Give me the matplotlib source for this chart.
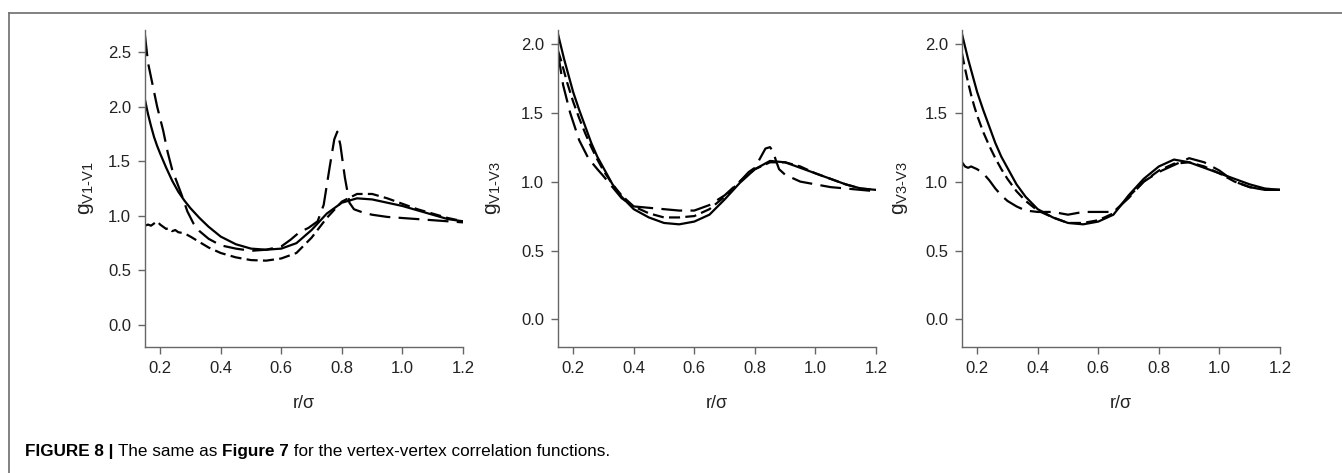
import matplotlib
matplotlib.use('Agg')
import matplotlib.pyplot as plt
from matplotlib.lines import Line2D

plt.rcParams['font.family'] = ['Liberation Sans', 'DejaVu Sans']
plt.rcParams['mathtext.fontset'] = 'custom'
plt.rcParams['mathtext.rm'] = 'Liberation Sans'
plt.rcParams['lines.scale_dashes'] = False

# общ x за гладките криви
r = [0.15, 0.16, 0.17, 0.18, 0.19, 0.20, 0.22, 0.24, 0.26, 0.28, 0.30, 0.33, 0.36, 0.40,
     0.45, 0.50, 0.55, 0.60, 0.65, 0.70, 0.75, 0.80, 0.85, 0.90, 0.95, 1.00, 1.05, 1.10,
     1.15, 1.20]

# панел 1: g V1-V1
v11_solid = [2.06, 1.93, 1.82, 1.72, 1.64, 1.57, 1.44, 1.32, 1.22, 1.14, 1.07, 0.98, 0.90,
             0.81, 0.74, 0.70, 0.69, 0.70, 0.75, 0.87, 1.02, 1.12, 1.16, 1.15, 1.12, 1.09,
             1.05, 1.01, 0.97, 0.95]
v11_long_r = [0.15, 0.16, 0.175, 0.19, 0.21, 0.225, 0.24, 0.27, 0.29, 0.31, 0.33, 0.36, 0.40,
              0.45, 0.50, 0.55, 0.60, 0.63, 0.66, 0.69, 0.72, 0.74, 0.76, 0.775, 0.785,
              0.795, 0.81, 0.825, 0.84, 0.87, 0.90, 0.95, 1.00, 1.05, 1.10, 1.15, 1.20]
v11_long = [2.65, 2.40, 2.20, 2.00, 1.78, 1.58, 1.42, 1.20, 1.04, 0.93, 0.86, 0.79, 0.73,
            0.70, 0.68, 0.69, 0.72, 0.78, 0.85, 0.89, 0.95, 1.10, 1.45, 1.70, 1.77,
            1.65, 1.35, 1.12, 1.06, 1.03, 1.01, 0.99, 0.98, 0.97, 0.96, 0.95, 0.94]
v11_short_r = [0.15, 0.16, 0.17, 0.18, 0.19, 0.20, 0.21, 0.22, 0.23, 0.24, 0.25, 0.26, 0.28,
               0.30, 0.33, 0.36, 0.40, 0.45, 0.50, 0.55, 0.60, 0.65, 0.70, 0.75, 0.80,
               0.85, 0.90, 0.95, 1.00, 1.05, 1.10, 1.15, 1.20]
v11_short = [0.91, 0.92, 0.91, 0.93, 0.95, 0.92, 0.90, 0.88, 0.89, 0.86, 0.87, 0.85, 0.84,
             0.81, 0.76, 0.71, 0.66, 0.62, 0.595, 0.59, 0.61, 0.66, 0.80, 0.98, 1.13,
             1.20, 1.20, 1.16, 1.11, 1.06, 1.02, 0.98, 0.95]

# панел 2: g V1-V3
v13_solid = [2.07, 1.98, 1.89, 1.81, 1.73, 1.65, 1.52, 1.40, 1.28, 1.18, 1.10, 0.98, 0.89,
             0.80, 0.74, 0.70, 0.69, 0.71, 0.76, 0.87, 0.99, 1.09, 1.15, 1.14, 1.10, 1.06,
             1.02, 0.98, 0.95, 0.94]
v13_short = [1.95, 1.88, 1.80, 1.72, 1.65, 1.58, 1.46, 1.35, 1.25, 1.16, 1.08, 0.98, 0.90,
             0.82, 0.77, 0.74, 0.74, 0.75, 0.80, 0.89, 1.00, 1.09, 1.14, 1.14, 1.11, 1.06,
             1.02, 0.98, 0.95, 0.94]
v13_long_r = [0.15, 0.167, 0.19, 0.22, 0.25, 0.28, 0.30, 0.33, 0.36, 0.40, 0.45, 0.50, 0.55,
              0.60, 0.65, 0.70, 0.75, 0.78, 0.80, 0.82, 0.835, 0.85, 0.86, 0.87, 0.88, 0.90,
              0.95, 1.00, 1.05, 1.10, 1.15, 1.20]
v13_long = [1.93, 1.70, 1.50, 1.30, 1.17, 1.09, 1.04, 0.96, 0.88, 0.82, 0.81, 0.80, 0.79,
            0.79, 0.83, 0.90, 1.00, 1.07, 1.10, 1.18, 1.24, 1.25, 1.22, 1.15, 1.09, 1.05,
            1.00, 0.98, 0.96, 0.95, 0.94, 0.93]

# панел 3: g V3-V3
v33_solid = [2.07, 1.98, 1.89, 1.81, 1.73, 1.65, 1.52, 1.40, 1.28, 1.18, 1.10, 0.98, 0.89,
             0.80, 0.74, 0.70, 0.69, 0.71, 0.76, 0.90, 1.02, 1.11, 1.16, 1.14, 1.10, 1.06,
             1.02, 0.98, 0.95, 0.94]
v33_short = [1.93, 1.82, 1.72, 1.63, 1.55, 1.48, 1.36, 1.26, 1.17, 1.09, 1.02, 0.93, 0.86,
             0.79, 0.74, 0.70, 0.70, 0.72, 0.77, 0.89, 1.00, 1.08, 1.13, 1.14, 1.11, 1.06,
             1.00, 0.96, 0.94, 0.94]
v33_long = [1.14, 1.11, 1.10, 1.11, 1.10, 1.09, 1.06, 1.01, 0.95, 0.90, 0.86, 0.82, 0.79,
            0.78, 0.78, 0.76, 0.78, 0.78, 0.78, 0.88, 1.00, 1.07, 1.12, 1.17, 1.14, 1.08,
            1.00, 0.96, 0.94, 0.94]

ylabels = [r'$\mathregular{g_{V1\text{-}V1}}$', r'$\mathregular{g_{V1\text{-}V3}}$',
           r'$\mathregular{g_{V3\text{-}V3}}$']
ylims = [(-0.2, 2.7), (-0.2, 2.1), (-0.2, 2.1)]
yticks = [[0.0, 0.5, 1.0, 1.5, 2.0, 2.5], [0.0, 0.5, 1.0, 1.5, 2.0], [0.0, 0.5, 1.0, 1.5, 2.0]]
xticks = [0.2, 0.4, 0.6, 0.8, 1.0, 1.2]

panels = [
    [(r, v11_solid, 'solid'), (v11_long_r, v11_long, 'long'), (v11_short_r, v11_short, 'short')],
    [(r, v13_solid, 'solid'), (v13_long_r, v13_long, 'long'), (r, v13_short, 'short')],
    [(r, v33_solid, 'solid'), (r, v33_long, 'long'), (r, v33_short, 'short')],
]
dashes = {'solid': None, 'long': (15, 6), 'short': (8, 3.8)}

W, H = 1342, 473
fig = plt.figure(figsize=(W / 100, H / 100), dpi=100)
lefts = [145, 558, 962]
label_x = [-0.155, -0.172, -0.165]
axes = []
for i, left in enumerate(lefts):
    ax = fig.add_axes([left / W, 1 - 347 / H, 318 / W, 317 / H])
    axes.append(ax)
    for xs, ys, style in panels[i]:
        line, = ax.plot(xs, ys, color='black', lw=1.6)
        if dashes[style]:
            line.set_dashes(dashes[style])
    ax.set_xlim(0.15, 1.2)
    ax.set_ylim(*ylims[i])
    ax.set_xticks(xticks)
    ax.set_xticklabels(['%.1f' % t for t in xticks])
    ax.set_yticks(yticks[i])
    ax.set_yticklabels(['%.1f' % t for t in yticks[i]])
    for s in ['top', 'right']:
        ax.spines[s].set_visible(False)
    for s in ['left', 'bottom']:
        ax.spines[s].set_color('#666666')
        ax.spines[s].set_linewidth(1.0)
    ax.tick_params(direction='out', length=5, width=1, color='#666666',
                   labelsize=12, labelcolor='#222222', pad=5)
    ax.set_xlabel('r/σ', fontsize=13, labelpad=14, color='#222222')
    ax.set_ylabel(ylabels[i], fontsize=15, color='#222222')
    ax.yaxis.set_label_coords(label_x[i], 0.5)

# рамка около фигурата
fig.add_artist(Line2D([9 / W, 1], [1 - 13 / H, 1 - 13 / H], color='#777777', lw=1.3))
fig.add_artist(Line2D([9 / W, 9 / W], [0, 1 - 13 / H], color='#777777', lw=1.3))

# надпис
fs = 12.3
t1 = fig.text(25 / W, 1 - 459 / H, 'FIGURE 8 | ', fontsize=fs, weight='bold', va='bottom')
t2 = axes[0].annotate('The same as ', xy=(1, 0), xycoords=t1, va='bottom', fontsize=fs,
                      annotation_clip=False)
t3 = axes[0].annotate('Figure 7', xy=(1, 0), xycoords=t2, va='bottom', fontsize=fs,
                      weight='bold', annotation_clip=False)
t4 = axes[0].annotate(' for the vertex-vertex correlation functions.', xy=(1, 0), xycoords=t3,
                      va='bottom', fontsize=fs, annotation_clip=False)

fig.savefig('out.png', dpi=100)
